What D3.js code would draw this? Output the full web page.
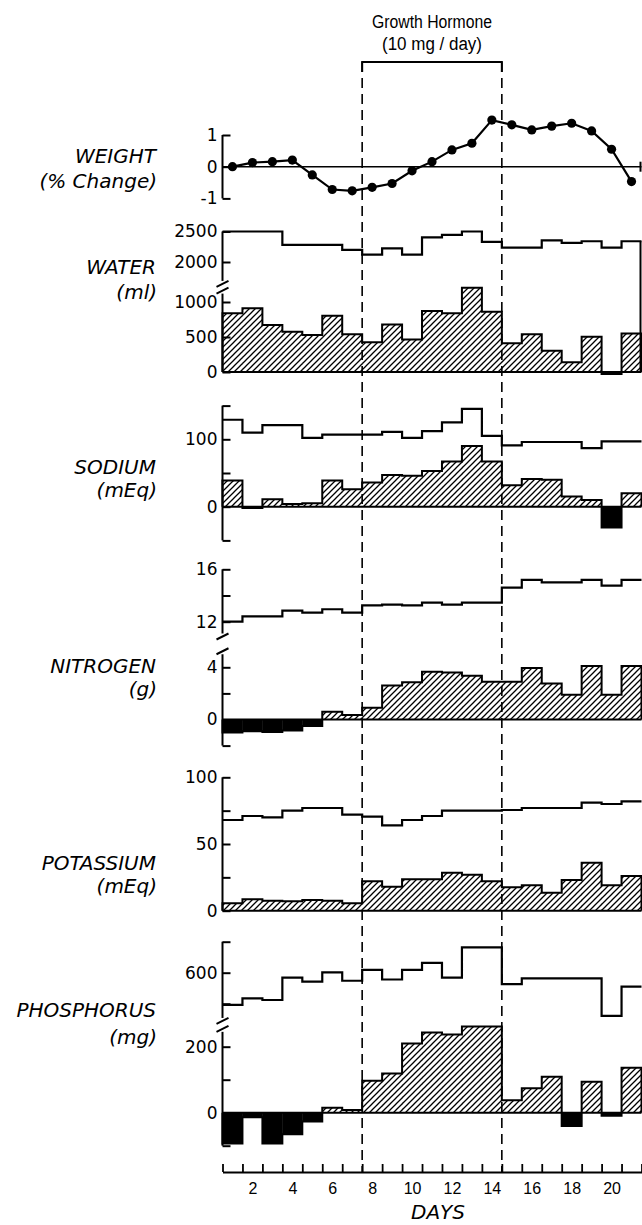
<!DOCTYPE html>
<html>
<head>
<meta charset="utf-8">
<script src="https://cdn.jsdelivr.net/npm/d3@7"></script>
<style>
  body { margin: 0; background: #fff; }
  svg { display: block; }
  .lab { font-family: "DejaVu Sans", sans-serif; font-style: italic; font-size: 20px; }
  .tick text { font-family: "DejaVu Sans", sans-serif; font-size: 17px; }
  .days .tick text { font-family: "Liberation Sans", sans-serif; font-size: 16px; }
</style>
</head>
<body>
<svg id="canvas" width="642" height="1225"></svg>
<script>
let days = d3.range(1, 22)

let weight = [0, 0.13, 0.16, 0.21, -0.26, -0.72, -0.76, -0.65, -0.53, -0.13, 0.16, 0.53, 0.74, 1.47, 1.32, 1.16, 1.28, 1.37, 1.13, 0.55, -0.47]

let waterIn = [2500, 2500, 2500, 2280, 2280, 2280, 2200, 2120, 2225, 2120, 2405, 2445, 2500, 2330, 2235, 2235, 2355, 2315, 2340, 2235, 2340]
let waterBal = [840, 910, 670, 575, 530, 805, 540, 425, 680, 465, 870, 840, 1205, 860, 410, 540, 305, 140, 505, -30, 550]

let sodiumIn = [129, 110, 121, 121, 102, 107, 107, 107, 111, 102, 112, 125, 145, 105, 91, 96, 96, 96, 87, 97, 97]
let sodiumBal = [39, -2, 11, 4, 5, 39, 26, 36, 47, 46, 53, 67, 90, 67, 32, 41, 40, 15, 10, -31, 20]

let nitrogenIn = [12.0, 12.4, 12.4, 12.85, 12.7, 12.95, 12.7, 13.25, 13.3, 13.25, 13.45, 13.3, 13.45, 13.45, 14.6, 15.2, 15.0, 15.0, 15.2, 14.75, 15.2]
let nitrogenBal = [-1.0, -0.9, -0.95, -0.85, -0.5, 0.6, 0.35, 0.9, 2.6, 2.85, 3.65, 3.6, 3.35, 2.9, 2.9, 3.95, 2.75, 1.9, 4.1, 1.9, 4.1]

let potassiumIn = [68, 71, 70, 75, 77, 77, 72, 70.5, 64, 68, 71, 75, 75, 75, 75.5, 77, 77, 77, 81, 80, 82]
let potassiumBal = [5.5, 8.5, 7.5, 7, 8, 7.5, 5.5, 22, 18, 23.5, 23.5, 28.5, 27, 22, 17.5, 19, 13.5, 23, 36, 19, 26]

let phosphorusIn = [496, 517, 512, 584, 571, 601, 574, 609, 578, 609, 632, 584, 682, 682, 563, 582, 582, 582, 582, 461, 555]
let phosphorusBal = [-93, -14, -93, -65, -27, 15, 8, 97, 119, 210, 243, 237, 261, 261, 38, 74, 109, -40, 94, -9, 136]

let hormoneDays = [7.5, 14.5]
let dayLabels = [2, 4, 6, 8, 10, 12, 14, 16, 18, 20]
let names = ['WEIGHT', 'WATER', 'SODIUM', 'NITROGEN', 'POTASSIUM', 'PHOSPHORUS']
let units = ['(% Change)', '(ml)', '(mEq)', '(g)', '(mEq)', '(mg)']

let canvas = d3.select('#canvas')

let x = d3.scaleLinear().domain([0.5, 21.5]).range([222.5, 641.5])
let x0 = x(0.5)

let defs = canvas.append('defs')
defs.append('pattern')
    .attr('id', 'hatch')
    .attr('patternUnits', 'userSpaceOnUse')
    .attr('width', 6)
    .attr('height', 6)
    .append('path')
    .attr('d', 'M-1,1 l2,-2 M0,6 l6,-6 M5,7 l2,-2')
    .attr('stroke', '#000')
    .attr('stroke-width', 1.3)

// y scales, one per panel (two where the axis is broken)
let yW = d3.scaleLinear().domain([-1, 1]).range([198.4, 135])
let yWaterU = d3.scaleLinear().domain([2000, 2500]).range([262, 231.5])
let yWaterL = d3.scaleLinear().domain([0, 1000]).range([372, 302])
let yNa = d3.scaleLinear().domain([-50, 150]).range([540.4, 405.6])
let yNU = d3.scaleLinear().domain([12, 16]).range([621.7, 569.3])
let yNL = d3.scaleLinear().domain([0, 4]).range([719.5, 667.3])
let yK = d3.scaleLinear().domain([0, 100]).range([910.7, 777.3])
let yPU = d3.scaleLinear().domain([600, 700]).range([972.7, 941.7])
let yPL = d3.scaleLinear().domain([0, 200]).range([1112.7, 1046.7])

let drawAxis = (scale, top, bottom, ticks, labels) => {
  let axis = d3.axisLeft(scale)
               .tickValues(ticks)
               .tickSizeInner(-8)
               .tickSizeOuter(0)
               .tickPadding(5)
               .tickFormat(d => labels.includes(d) ? d : '')
  let g = canvas.append('g')
                .attr('transform', `translate(${x0},0)`)
                .call(axis)
  g.select('.domain').remove()
  g.selectAll('.tick line').attr('stroke-width', 2)
  canvas.append('line')
        .attr('x1', x0).attr('x2', x0)
        .attr('y1', scale(top)).attr('y2', scale(bottom))
        .attr('stroke', '#000').attr('stroke-width', 2)
}

let drawBreak = (yTop, yBot) => {
  ;[yTop + 3, yBot - 3].forEach(yc => {
    canvas.append('line')
          .attr('x1', x0 - 6).attr('y1', yc + 3)
          .attr('x2', x0 + 6).attr('y2', yc - 3)
          .attr('stroke', '#000').attr('stroke-width', 2)
  })
}

let stepLine = d3.line().curve(d3.curveStepAfter).x(p => x(p[0])).y(p => p[1])

let drawStep = (vals, y) => {
  let pts = vals.map((v, i) => [days[i] - 0.5, y(v)])
  pts.push([21.5, y(vals[vals.length - 1])])
  canvas.append('path')
        .attr('d', stepLine(pts))
        .attr('fill', 'none')
        .attr('stroke', '#000')
        .attr('stroke-width', 2.2)
}

let drawBars = (vals, y) => {
  let w = x(1.5) - x(0.5)
  canvas.append('g')
        .selectAll('rect')
        .data(vals)
        .enter()
        .append('rect')
        .attr('x', (d, i) => x(days[i] - 0.5))
        .attr('width', w + 0.4)
        .attr('y', d => y(Math.max(d, 0)))
        .attr('height', d => Math.abs(y(d) - y(0)))
        .attr('fill', d => d < 0 ? '#000' : 'url(#hatch)')
  let pts = [[0.5, y(0)]]
  vals.forEach((v, i) => {
    pts.push([days[i] - 0.5, y(v)])
    pts.push([days[i] + 0.5, y(v)])
  })
  pts.push([21.5, y(0)])
  canvas.append('path')
        .attr('d', d3.line().x(p => x(p[0])).y(p => p[1])(pts))
        .attr('fill', 'none')
        .attr('stroke', '#000')
        .attr('stroke-width', 2)
  canvas.append('line')
        .attr('x1', x(0.5)).attr('x2', x(21.5))
        .attr('y1', y(0)).attr('y2', y(0))
        .attr('stroke', '#000').attr('stroke-width', 2)
}

// WEIGHT
drawAxis(yW, 1, -1, [1, 0, -1], [1, 0, -1])
canvas.append('line')
      .attr('x1', x0).attr('x2', x(21.5))
      .attr('y1', yW(0)).attr('y2', yW(0))
      .attr('stroke', '#000').attr('stroke-width', 1.6)
canvas.append('line')
      .attr('x1', x(21.5) - 1).attr('x2', x(21.5) - 1)
      .attr('y1', yW(0) - 5).attr('y2', yW(0) + 5)
      .attr('stroke', '#000').attr('stroke-width', 2)
canvas.append('path')
      .attr('d', d3.line().x((d, i) => x(days[i])).y(d => yW(d))(weight))
      .attr('fill', 'none')
      .attr('stroke', '#000')
      .attr('stroke-width', 2.2)
canvas.append('g')
      .selectAll('circle')
      .data(weight)
      .enter()
      .append('circle')
      .attr('cx', (d, i) => x(days[i]))
      .attr('cy', d => yW(d))
      .attr('r', 4.6)
      .attr('fill', '#000')

// WATER
drawAxis(yWaterU, 2500, 1690, [2500, 2000], [2500, 2000])
drawAxis(yWaterL, 1120, 0, [1000, 500, 0], [1000, 500, 0])
drawBreak(yWaterU(1690), yWaterL(1120))
drawBars(waterBal, yWaterL)
drawStep(waterIn, yWaterU)
canvas.append('line')
      .attr('x1', x(21.5) - 1).attr('x2', x(21.5) - 1)
      .attr('y1', yWaterU(waterIn[20])).attr('y2', yWaterL(0))
      .attr('stroke', '#000').attr('stroke-width', 2)

// SODIUM
drawAxis(yNa, 150, -50, [150, 100, 50, 0, -50], [100, 0])
drawBars(sodiumBal, yNa)
drawStep(sodiumIn, yNa)

// NITROGEN
drawAxis(yNU, 16, 11.1, [16, 14, 12], [16, 12])
drawAxis(yNL, 5, -2, [4, 2, 0, -2], [4, 0])
drawBreak(yNU(11.1), yNL(5))
drawBars(nitrogenBal, yNL)
drawStep(nitrogenIn, yNU)

// POTASSIUM
drawAxis(yK, 100, 0, [100, 75, 50, 25, 0], [100, 50, 0])
drawBars(potassiumBal, yK)
drawStep(potassiumIn, yK)

// PHOSPHORUS
drawAxis(yPU, 700, 454, [700, 600, 500], [600])
drawAxis(yPL, 245, -100, [200, 100, 0, -100], [200, 0])
drawBreak(yPU(454), yPL(245))
drawBars(phosphorusBal, yPL)
drawStep(phosphorusIn, yPU)

// x axis
let xAxisG = canvas.append('g')
                   .attr('transform', 'translate(0,1172)')
                   .call(d3.axisBottom(x)
                           .tickValues(d3.range(0.5, 22, 1))
                           .tickSizeInner(-8)
                           .tickSizeOuter(0)
                           .tickFormat(''))
xAxisG.select('.domain').attr('stroke-width', 2)
xAxisG.selectAll('.tick line').attr('stroke-width', 1.8)

canvas.append('g')
      .attr('class', 'days')
      .attr('transform', 'translate(0,1172)')
      .call(d3.axisBottom(x)
              .tickValues(dayLabels)
              .tickSize(0)
              .tickPadding(11))
      .select('.domain').remove()

canvas.append('text')
      .attr('class', 'lab')
      .attr('x', 438)
      .attr('y', 1219)
      .attr('text-anchor', 'middle')
      .text('DAYS')

// growth hormone period
let hx1 = x(hormoneDays[0])
let hx2 = x(hormoneDays[1])
canvas.append('path')
      .attr('d', `M${hx1},72V62H${hx2}V72`)
      .attr('fill', 'none')
      .attr('stroke', '#000')
      .attr('stroke-width', 2)
hormoneDays.forEach(d => {
  canvas.append('line')
        .attr('x1', x(d)).attr('x2', x(d))
        .attr('y1', 62).attr('y2', 1172)
        .attr('stroke', '#000')
        .attr('stroke-width', 1.6)
        .attr('stroke-dasharray', '10,6')
})
canvas.append('text')
      .attr('x', (hx1 + hx2) / 2)
      .attr('y', 28)
      .attr('text-anchor', 'middle')
      .attr('font-family', 'Liberation Sans, sans-serif')
      .attr('font-size', 18)
      .attr('textLength', 120)
      .attr('lengthAdjust', 'spacingAndGlyphs')
      .text('Growth Hormone')
canvas.append('text')
      .attr('x', (hx1 + hx2) / 2)
      .attr('y', 50)
      .attr('text-anchor', 'middle')
      .attr('font-family', 'Liberation Sans, sans-serif')
      .attr('font-size', 18)
      .attr('textLength', 100)
      .attr('lengthAdjust', 'spacingAndGlyphs')
      .text('(10 mg / day)')

// panel labels
let nameY = [163, 274, 474, 673, 870, 1017]
let unitY = [188, 299, 497, 696, 893, 1044]
names.forEach((n, i) => {
  canvas.append('text')
        .attr('class', 'lab')
        .attr('x', 156)
        .attr('y', nameY[i])
        .attr('text-anchor', 'end')
        .text(n)
  canvas.append('text')
        .attr('class', 'lab')
        .attr('x', 157)
        .attr('y', unitY[i])
        .attr('text-anchor', 'end')
        .text(units[i])
})
</script>
</body>
</html>
